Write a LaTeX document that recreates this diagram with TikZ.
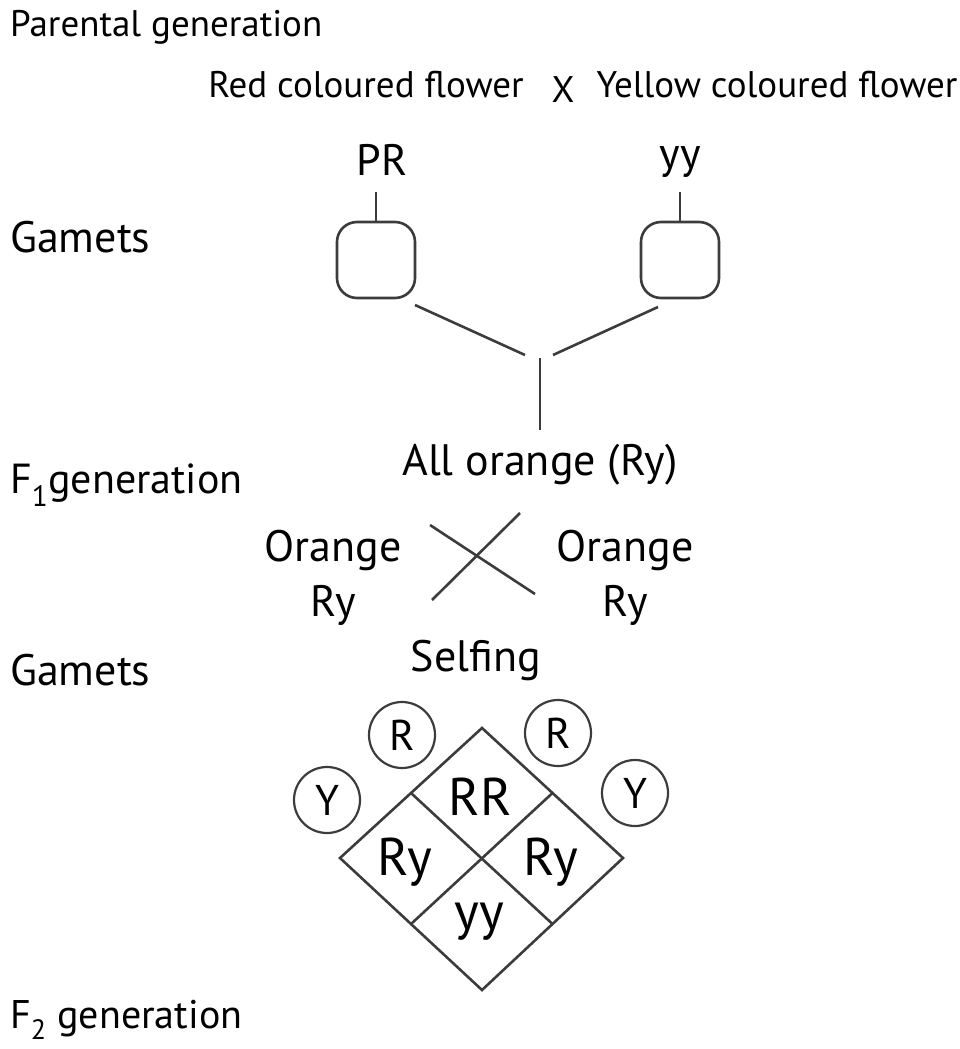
\documentclass[tikz,border=0pt]{standalone}
\usepackage{fontspec}
\setmainfont{PT Sans}
\usetikzlibrary{calc}
\definecolor{linegray}{HTML}{3C3C3C}
\begin{document}
\begin{tikzpicture}[x=1pt,y=-1pt,
  every node/.style={inner sep=0pt, text=black},
  side/.style={anchor=west, font=\fontsize{42}{50}\selectfont},
  small/.style={font=\fontsize{37}{44}\selectfont},
  mid/.style={font=\fontsize{44}{50}\selectfont},
  gambox/.style={draw=linegray, line width=2.6pt, rounded corners=20pt, minimum width=78pt, minimum height=76pt},
  allele/.style={draw=linegray, line width=2.2pt, circle, minimum size=66pt, font=\fontsize{43}{48}\selectfont},
  cell/.style={font=\fontsize{53}{60}\selectfont},
  link/.style={draw=linegray, line width=2.6pt}]
\useasboundingbox (0,0) rectangle (959,1049);

% row labels
\node[side, font=\fontsize{37}{44}\selectfont] (parent) at (10,27) {Parental generation};
\node[side, font=\fontsize{44}{50}\selectfont] (gam1) at (10,237) {Gamets};
\node[side] (f1) at (10,485) {F\textsubscript{1}generation};
\node[side, font=\fontsize{44}{50}\selectfont] (gam2) at (10,670) {Gamets};
\node[side, font=\fontsize{40}{46}\selectfont] (f2) at (10,1020) {F\textsubscript{2} generation};

% parents
\node[small] (red) at (366,85) {Red coloured flower};
\node[small] (times) at (563,90) {X};
\node[small] (yellow) at (777,85) {Yellow coloured flower};
\node[mid] (pr) at (382,160) {PR};
\node[mid] (yy) at (680,162) {yy};

% gametes of the parents
\node[gambox] (gl) at (376,260) {};
\node[gambox] (gr) at (680,260) {};
\draw[link] (gl.north) -- ++(0,-29);
\draw[link] (gr.north) -- ++(0,-29);

\coordinate (l1) at (415,305);
\coordinate (l2) at (525,355);
\coordinate (r1) at (658,307);
\coordinate (r2) at (553,355);
\coordinate (v1) at (540,358);
\coordinate (v2) at (540,430);
\draw[link] (l1) -- (l2);
\draw[link] (r1) -- (r2);
\draw[link] (v1) -- (v2);

% F1
\node[mid] (allorange) at (540,465) {All orange (Ry)};
\node[mid, align=center] (oleft) at (333,578) {Orange\\[5pt]Ry};
\node[mid, align=center] (oright) at (625,578) {Orange\\[5pt]Ry};
\coordinate (xa) at (430,525);
\coordinate (xb) at (535,594);
\coordinate (xc) at (432,600);
\coordinate (xd) at (520,513);
\draw[link] (xa) -- (xb);
\draw[link] (xc) -- (xd);
\node[mid] (selfing) at (476,660) {Selfing};

% Punnett square (diamond)
\coordinate (dt) at (482,728);
\coordinate (dl) at (340,858);
\coordinate (dr) at (623,858);
\coordinate (db) at (482,990);
\draw[link, line join=miter] (dt) -- (dr) -- (db) -- (dl) -- cycle;
\draw[link] ($(dt)!0.5!(dl)$) -- ($(dr)!0.5!(db)$);
\draw[link] ($(dt)!0.5!(dr)$) -- ($(dl)!0.5!(db)$);
\node[cell] (rr) at (480,797) {RR};
\node[cell] (ryl) at (405,862) {Ry};
\node[cell] (ryr) at (551,862) {Ry};
\node[cell] (yyc) at (479,922) {yy};

% gametes of F1
\node[allele] (rl) at (402,735) {R};
\node[allele] (rrt) at (558,733) {R};
\node[allele] (yl) at (327,800) {Y};
\node[allele] (yr) at (635,793) {Y};
\end{tikzpicture}
\end{document}
